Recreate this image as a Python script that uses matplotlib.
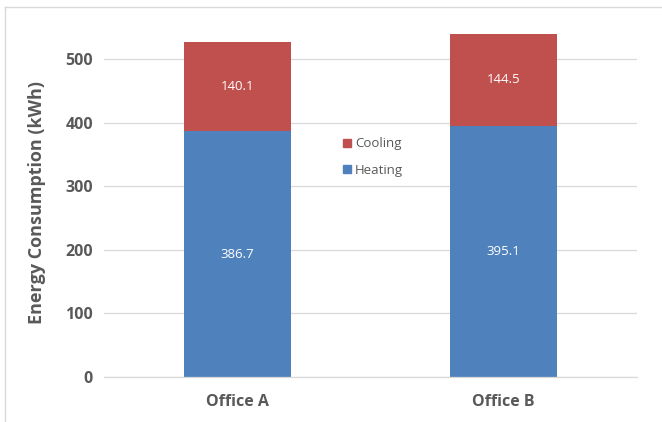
import numpy as np
import matplotlib.pyplot as plt
from matplotlib.lines import Line2D

plt.rcParams['font.family'] = ['Open Sans', 'DejaVu Sans']

offices = ['Office A', 'Office B']
heating = [386.7, 395.1]
cooling = [140.1, 144.5]
yticks = [0, 100, 200, 300, 400, 500]

blue = '#4F81BD'
red = '#C0504D'
grey = '#595959'
gridc = '#D9D9D9'

fig = plt.figure(figsize=(6.62, 4.22), dpi=100)
ax = fig.add_axes([104/662, 1-377/422, 533/662, 349.8/422])

x = np.arange(len(offices))
w = 0.40
ax.bar(x, heating, w, color=blue, label='Heating', zorder=2)
ax.bar(x, cooling, w, bottom=heating, color=red, label='Cooling', zorder=2)

for xi, h, c in zip(x, heating, cooling):
    ax.text(xi, h/2, f'{h:.1f}', ha='center', va='center', color='white', fontsize=9.5)
    ax.text(xi, h + c/2, f'{c:.1f}', ha='center', va='center', color='white', fontsize=9.5)

ax.set_xlim(-0.5, 1.5)
ax.set_ylim(0, 550)
ax.set_yticks(yticks)
ax.set_xticks(x)
ax.set_xticklabels(offices)
ax.yaxis.grid(True, color=gridc, lw=0.9, zorder=0)
ax.set_axisbelow(True)
for s in ['left', 'right', 'top']:
    ax.spines[s].set_visible(False)
ax.spines['bottom'].set_color(gridc)
ax.spines['bottom'].set_linewidth(0.9)
ax.tick_params(length=0, labelsize=11.5, labelcolor=grey, pad=8)
for lab in ax.get_xticklabels() + ax.get_yticklabels():
    lab.set_fontweight('bold')
ax.tick_params(axis='x', pad=12)
ax.set_ylabel('Energy Consumption (kWh)', fontsize=13, fontweight='bold', color=grey, labelpad=14)

handles = [Line2D([0], [0], marker='s', ls='', color=red, markersize=6, label='Cooling'),
           Line2D([0], [0], marker='s', ls='', color=blue, markersize=6, label='Heating')]
ax.legend(handles=handles, loc='center', bbox_to_anchor=(372/662, 1-157/422),
          bbox_transform=fig.transFigure, frameon=False, fontsize=9.5,
          labelcolor=grey, handletextpad=0.1, labelspacing=1.0, handlelength=1.0)

# chart frame (light grey border at top and left)
fig.add_artist(Line2D([5/662, 1], [1-7/422, 1-7/422], transform=fig.transFigure, color=gridc, lw=1))
fig.add_artist(Line2D([5/662, 5/662], [0, 1-7/422], transform=fig.transFigure, color=gridc, lw=1))

fig.savefig('out.png', dpi=100)
